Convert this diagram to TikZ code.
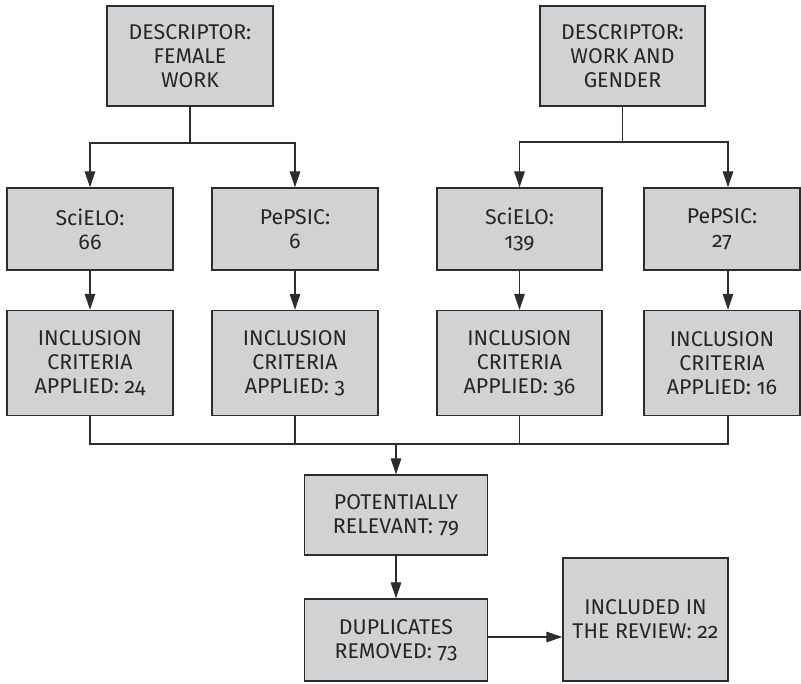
\documentclass[tikz,border=0pt]{standalone}
\usepackage{xcolor}
\usepackage{fontspec}
\setmainfont{Fira Sans}[Numbers=OldStyle]
\usepackage{tikz}
\usetikzlibrary{arrows.meta, positioning}
\definecolor{boxgray}{RGB}{209,210,212}
\definecolor{edgegray}{RGB}{45,45,45}
\tikzstyle{block} = [rectangle, draw=edgegray, line width=1.1pt, fill=boxgray, text centered, align=center, inner sep=0pt, font=\fontsize{16}{18}\selectfont, text=black!85]
\tikzstyle{line} = [draw=edgegray, line width=0.8pt]
\tikzstyle{arrow} = [line, -{Triangle[length=12pt, width=8pt]}]

\begin{document}
\begin{tikzpicture}[x=0.75pt, y=-0.75pt]
            \useasboundingbox (0,0) rectangle (801,683);
            % Nodes
            \node[block, minimum width=124.5pt, minimum height=75pt] (desc1) at (190,56) {DESCRIPTOR:\\FEMALE\\WORK};
            \node[block, minimum width=124pt, minimum height=75pt] (desc2) at (622.5,56) {DESCRIPTOR:\\WORK AND\\GENDER};
            \node[block, minimum width=124.5pt, minimum height=61.5pt] (sci1) at (90,229) {SciELO:\\66};
            \node[block, minimum width=124.5pt, minimum height=61.5pt] (pep1) at (295,229) {PePSIC:\\6};
            \node[block, minimum width=123.75pt, minimum height=61.5pt] (sci2) at (519.5,229) {SciELO:\\139};
            \node[block, minimum width=117pt, minimum height=61.5pt] (pep2) at (722,229) {PePSIC:\\27};
            \node[block, minimum width=124.5pt, minimum height=78.75pt] (inc1) at (90,363) {INCLUSION\\CRITERIA\\APPLIED: 24};
            \node[block, minimum width=124.5pt, minimum height=78.75pt] (inc2) at (295,363) {INCLUSION\\CRITERIA\\APPLIED: 3};
            \node[block, minimum width=123.75pt, minimum height=78.75pt] (inc3) at (519.5,363) {INCLUSION\\CRITERIA\\APPLIED: 36};
            \node[block, minimum width=117pt, minimum height=78.75pt] (inc4) at (722,363) {INCLUSION\\CRITERIA\\APPLIED: 16};
            \node[block, minimum width=137pt, minimum height=60pt] (pot) at (396,515) {POTENTIALLY\\RELEVANT: 79};
            \node[block, minimum width=137pt, minimum height=61.5pt] (dup) at (396,640) {DUPLICATES\\REMOVED: 73};
            \node[block, minimum width=123.75pt, minimum height=92.25pt] (incl) at (645.5,619.5) {INCLUDED IN\\THE REVIEW: 22};
            \coordinate (split1) at (190,143);
            \coordinate (split2) at (622.5,142);
            \coordinate (col4) at (728,0);
            \coordinate (merge) at (396,444);

            % Edges
            \draw[line] (desc1) -- (split1);
            \draw[arrow] (split1) -| (sci1.north);
            \draw[arrow] (split1) -| (pep1.north);
            \draw[line] (desc2) -- (split2);
            \draw[arrow] (split2) -| (sci2.north);
            \draw[arrow] (split2) -| (col4 |- pep2.north);
            \draw[arrow] (sci1) -- (inc1);
            \draw[arrow] (pep1) -- (inc2);
            \draw[arrow] (sci2) -- (inc3);
            \draw[arrow] (col4 |- pep2.south) -- (col4 |- inc4.north);
            \draw[line] (inc1.south) -- (inc1.south |- merge) -- (col4 |- merge) -- (col4 |- inc4.south);
            \draw[line] (inc2.south) -- (inc2.south |- merge);
            \draw[line] (inc3.south) -- (inc3.south |- merge);
            \draw[arrow] (merge) -- (pot);
            \draw[arrow] (pot) -- (dup);
            \draw[arrow] (dup.east |- 0,637) -- (incl.west |- 0,637);
        \end{tikzpicture}
\end{document}
